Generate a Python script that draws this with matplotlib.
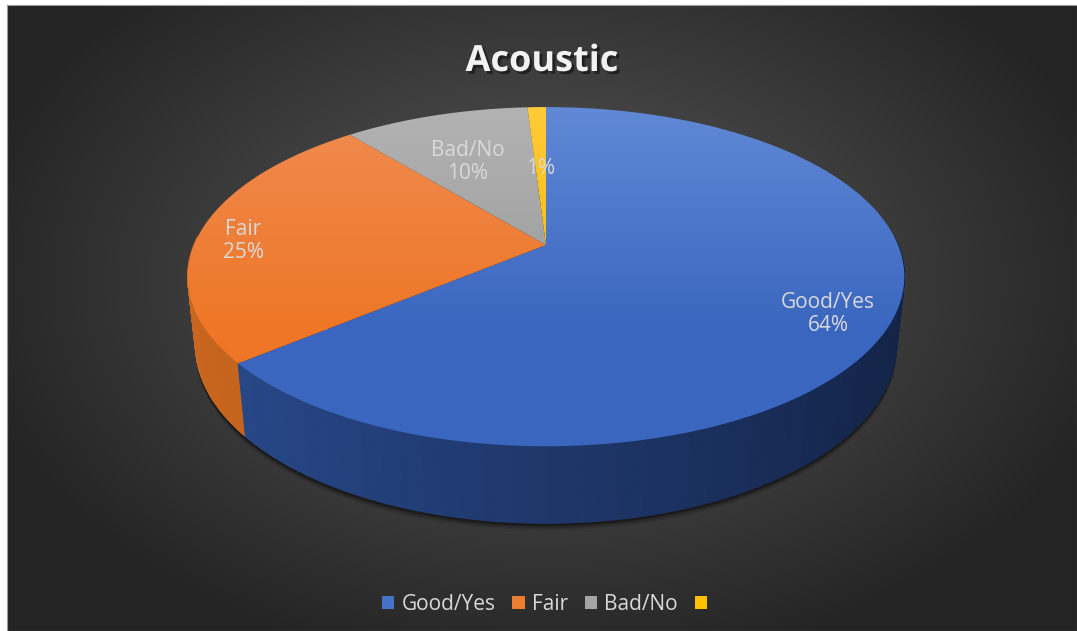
import numpy as np
import matplotlib
matplotlib.use('Agg')
import matplotlib.pyplot as plt
from matplotlib.patches import Polygon, Rectangle, Patch
from matplotlib.collections import PolyCollection
import matplotlib.patheffects as pe
from matplotlib.colors import to_rgb

plt.rcParams['font.family'] = ['Open Sans', 'DejaVu Sans']

title = 'Acoustic'
labels = ['Good/Yes', 'Fair', 'Bad/No', '']
values = [64, 25, 10, 1]

legend_colors = ['#4472C4', '#ED7D31', '#A5A5A5', '#FFC000']
top_light = ['#6189D6', '#F08C52', '#B3B3B3', '#FFCB3A']
top_dark = ['#3A66BF', '#EE7626', '#9A9A9A', '#F5B800']
side_left = ['#2A4C90', '#C8661E', '#8A8A8A', '#C89600']
side_right = ['#132346', '#B55A1A', '#707070', '#A07800']

W, H = 1077, 631
fig = plt.figure(figsize=(W / 100, H / 100), dpi=100)
fig.patch.set_facecolor('white')
ax = fig.add_axes([0, 0, 1, 1])
ax.set_xlim(0, W)
ax.set_ylim(H, 0)
ax.axis('off')

# dark radial background of the chart area
x0, y0, x1, y1 = 7, 5, W, H
gx, gy = np.meshgrid(np.linspace(x0, x1, 400), np.linspace(y0, y1, 250))
r = np.sqrt(((gx - 545) / 640) ** 2 + ((gy - 280) / 430) ** 2)
v = np.clip(90 - 58 * r, 36, 92) / 255
bg = np.dstack([v, v, v])
ax.imshow(bg, extent=(x0, x1, y1, y0), aspect='auto', zorder=0, interpolation='bilinear')
ax.add_patch(Rectangle((x0, y0), x1 - x0, y1 - y0, fill=False, edgecolor='#9a9a9a', lw=0.8, zorder=1))

# perspective view of the disc
cx, cy, f = 546, 245, 352
sp, cp = 0.465, 0.885
D = 4.74
h = 0.22


def proj(X, Z, Y=0.0):
    yc = Y * cp - Z * sp
    d = Y * sp + Z * cp
    k = D / (D - d)
    return cx + f * X * k, cy - f * yc * k


fr = np.array(values) / np.sum(values)
edges = np.concatenate([[0], np.cumsum(fr)]) * 2 * np.pi

# soft shadow under the disc
a = np.linspace(0, 2 * np.pi, 400)
bx, by = proj(np.sin(a), -np.cos(a), -h)
for off, al in [(7, 0.12), (5, 0.18), (3, 0.35)]:
    ax.add_patch(Polygon(np.column_stack([bx, by + off]), closed=True,
                         facecolor='black', edgecolor='none', alpha=al, zorder=1.5))

# side wall, built from thin quads so it can be shaded left to right
quads, cols, depth = [], [], []
for i in range(len(values)):
    n = max(2, int(np.degrees(edges[i + 1] - edges[i]) / 0.5))
    aa = np.linspace(edges[i], edges[i + 1], n + 1)
    for a0, a1 in zip(aa[:-1], aa[1:]):
        am = 0.5 * (a0 + a1)
        Xm, Zm = np.sin(am), -np.cos(am)
        if Zm < -0.05:
            continue
        p1 = proj(np.sin(a0), -np.cos(a0), 0)
        p2 = proj(np.sin(a1), -np.cos(a1), 0)
        p3 = proj(np.sin(a1), -np.cos(a1), -h)
        p4 = proj(np.sin(a0), -np.cos(a0), -h)
        quads.append([p1, p2, p3, p4])
        t = (Xm + 1) / 2
        c = (1 - t) * np.array(to_rgb(side_left[i])) + t * np.array(to_rgb(side_right[i]))
        cols.append(c)
        depth.append(Zm)
order = np.argsort(depth)
quads = [quads[j] for j in order]
cols = [cols[j] for j in order]
ax.add_collection(PolyCollection(quads, facecolors=cols, edgecolors=cols, linewidths=0.8, zorder=2))

# top face, one wedge per category with a vertical gradient
ty = np.linspace(0, 1, 256)[:, None]
for i in range(len(values)):
    aa = np.linspace(edges[i], edges[i + 1], 300)
    px, py = proj(np.sin(aa), -np.cos(aa), 0)
    verts = np.vstack([[cx, cy], np.column_stack([px, py])])
    wedge = Polygon(verts, closed=True, facecolor='none', edgecolor='none', zorder=3)
    ax.add_patch(wedge)
    cl, cd = np.array(to_rgb(top_light[i])), np.array(to_rgb(top_dark[i]))
    grad = (1 - ty)[:, :, None] * cl + ty[:, :, None] * cd
    im = ax.imshow(grad, extent=(150, 950, 330, 105), aspect='auto', zorder=3)
    im2 = ax.imshow(np.repeat(cd[None, None, :], 2, axis=0), extent=(150, 950, 460, 329), aspect='auto', zorder=3)
    im.set_clip_path(wedge)
    im2.set_clip_path(wedge)

# data labels
label_pos = [(828, 314), (243, 241), (468, 162), (541, 168)]
for lab, val, (lx, ly) in zip(labels, values, label_pos):
    txt = f'{lab}\n{val}%' if lab else f'{val}%'
    ax.text(lx, ly, txt, ha='center', va='center', color='#D9D9D9', fontsize=15,
            linespacing=1.1, zorder=5)

ax.text(542, 62, title, ha='center', va='center', color='#F2F2F2', fontsize=26,
        fontweight='bold', zorder=5,
        path_effects=[pe.withSimplePatchShadow(offset=(2, -2), shadow_rgbFace='black', alpha=0.45)])

handles = [Patch(facecolor=c, edgecolor='none') for c in legend_colors]
ax.legend(handles, labels, loc='center', bbox_to_anchor=(548 / W, 1 - 604 / H), ncol=4,
          frameon=False, handlelength=0.6, handleheight=0.6, handletextpad=0.35,
          columnspacing=0.8, labelcolor='#D9D9D9', fontsize=15)

fig.savefig('out.png', dpi=100, facecolor='white')
